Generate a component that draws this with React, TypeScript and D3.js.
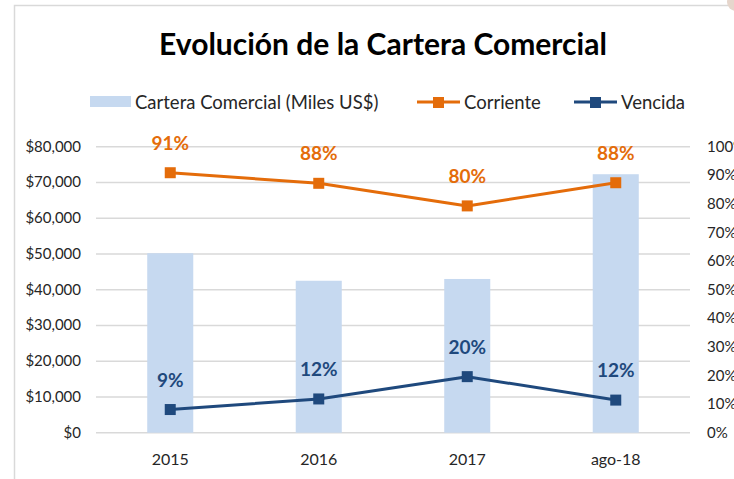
import React, { useEffect, useRef } from 'react';
import * as d3 from 'd3';

// chart values
const categories = ['2015', '2016', '2017', 'ago-18'];
const carteraValues = [50200, 42500, 43000, 72300];
const corrienteValues = [0.909, 0.872, 0.793, 0.874];
const vencidaValues = [0.081, 0.118, 0.196, 0.114];
const corrienteLabels = ['91%', '88%', '80%', '88%'];
const vencidaLabels = ['9%', '12%', '20%', '12%'];
const leftTicks = [0, 10000, 20000, 30000, 40000, 50000, 60000, 70000, 80000];
const rightTicks = [0, 0.1, 0.2, 0.3, 0.4, 0.5, 0.6, 0.7, 0.8, 0.9, 1];

const FONT = 'Lato, "Open Sans", sans-serif';
const BAR = '#c6d9f0';
const ORANGE = '#e46c0a';
const NAVY = '#1f497d';
const GRID = '#d9d9d9';
const TEXT = '#262626';

const App = () => {
    const svgRef = useRef<SVGSVGElement | null>(null);

    useEffect(() => {
        const svg = d3.select(svgRef.current);
        svg.selectAll('*').remove();

        const W = 734, H = 479;
        const plot = { left: 96, right: 690, top: 146.7, bottom: 432.7 };

        svg.append('rect').attr('width', W).attr('height', H).attr('fill', '#fff');

        // chart frame
        svg.append('rect')
            .attr('x', 14.5).attr('y', 5.5)
            .attr('width', 800).attr('height', 600)
            .attr('fill', 'none').attr('stroke', GRID).attr('stroke-width', 1.5);
        svg.append('circle').attr('cx', 736).attr('cy', 2).attr('r', 9).attr('fill', '#e6d6cc');

        const x = d3.scaleBand()
            .domain(categories)
            .range([plot.left, plot.right])
            .paddingInner(0.69)
            .paddingOuter(0.345);
        const yL = d3.scaleLinear().domain([0, 80000]).range([plot.bottom, plot.top]);
        const yR = d3.scaleLinear().domain([0, 1]).range([plot.bottom, plot.top]);
        const cx = (c: string) => (x(c) as number) + x.bandwidth() / 2;

        // title
        svg.append('text')
            .attr('x', 383).attr('y', 55)
            .attr('text-anchor', 'middle')
            .style('font-family', FONT).style('font-weight', 'bold').style('font-size', '30px')
            .attr('fill', '#000')
            .text('Evolución  de la Cartera  Comercial');

        // legend
        const lg = svg.append('g').style('font-family', FONT).style('font-size', '18.5px').attr('fill', TEXT);
        lg.append('rect').attr('x', 90).attr('y', 96).attr('width', 41).attr('height', 11).attr('fill', BAR);
        lg.append('text').attr('x', 135).attr('y', 109).text('Cartera Comercial (Miles US$)');
        [[417, ORANGE, 'Corriente'], [574, NAVY, 'Vencida']].forEach(([lx, col, name]) => {
            const x0 = lx as number;
            lg.append('line').attr('x1', x0).attr('x2', x0 + 43).attr('y1', 102).attr('y2', 102)
                .attr('stroke', col as string).attr('stroke-width', 3);
            lg.append('rect').attr('x', x0 + 16).attr('y', 97).attr('width', 11).attr('height', 11).attr('fill', col as string);
            lg.append('text').attr('x', x0 + 47).attr('y', 109).text(name as string);
        });

        // gridlines
        svg.append('g').selectAll('line')
            .data(leftTicks).enter().append('line')
            .attr('x1', plot.left).attr('x2', plot.right)
            .attr('y1', d => yL(d)).attr('y2', d => yL(d))
            .attr('stroke', GRID).attr('stroke-width', 1.5);

        // left axis labels
        svg.append('g').selectAll('text')
            .data(leftTicks).enter().append('text')
            .attr('x', 81).attr('y', d => yL(d) + 5)
            .attr('text-anchor', 'end')
            .style('font-family', FONT).style('font-size', '15px').attr('fill', TEXT)
            .text(d => '$' + d3.format(',')(d));

        // right axis labels (cut by the window edge, as in the original)
        svg.append('g').selectAll('text')
            .data(rightTicks).enter().append('text')
            .attr('x', 707).attr('y', d => yR(d) + 5)
            .style('font-family', FONT).style('font-size', '15px').attr('fill', TEXT)
            .text(d => d3.format('.0%')(d));

        // category labels
        svg.append('g').selectAll('text')
            .data(categories).enter().append('text')
            .attr('x', d => cx(d)).attr('y', 465)
            .attr('text-anchor', 'middle')
            .style('font-family', FONT).style('font-size', '16px').attr('fill', TEXT)
            .text(d => d);

        // bars
        svg.append('g').selectAll('rect')
            .data(carteraValues).enter().append('rect')
            .attr('x', (d, i) => x(categories[i]) as number)
            .attr('y', d => yL(d))
            .attr('width', x.bandwidth())
            .attr('height', d => plot.bottom - yL(d))
            .attr('fill', BAR);

        // lines
        const drawSeries = (vals: number[], labels: string[], col: string) => {
            const pts: [number, number][] = vals.map((v, i) => [cx(categories[i]), yR(v)]);
            svg.append('path')
                .attr('d', d3.line()(pts))
                .attr('fill', 'none').attr('stroke', col).attr('stroke-width', 3)
                .attr('stroke-linejoin', 'round');
            svg.append('g').selectAll('rect')
                .data(pts).enter().append('rect')
                .attr('x', d => d[0] - 5.5).attr('y', d => d[1] - 5.5)
                .attr('width', 11).attr('height', 11).attr('fill', col);
            svg.append('g').selectAll('text')
                .data(pts).enter().append('text')
                .attr('x', d => d[0]).attr('y', d => d[1] - 23)
                .attr('text-anchor', 'middle')
                .style('font-family', FONT).style('font-weight', 'bold').style('font-size', '19px')
                .attr('fill', col)
                .text((d, i) => labels[i]);
        };
        drawSeries(corrienteValues, corrienteLabels, ORANGE);
        drawSeries(vencidaValues, vencidaLabels, NAVY);
    }, []);

    return (
        <svg ref={svgRef} width={734} height={479}
            style={{ position: 'absolute', left: 0, top: 0, display: 'block' }} />
    );
};

export default App;
